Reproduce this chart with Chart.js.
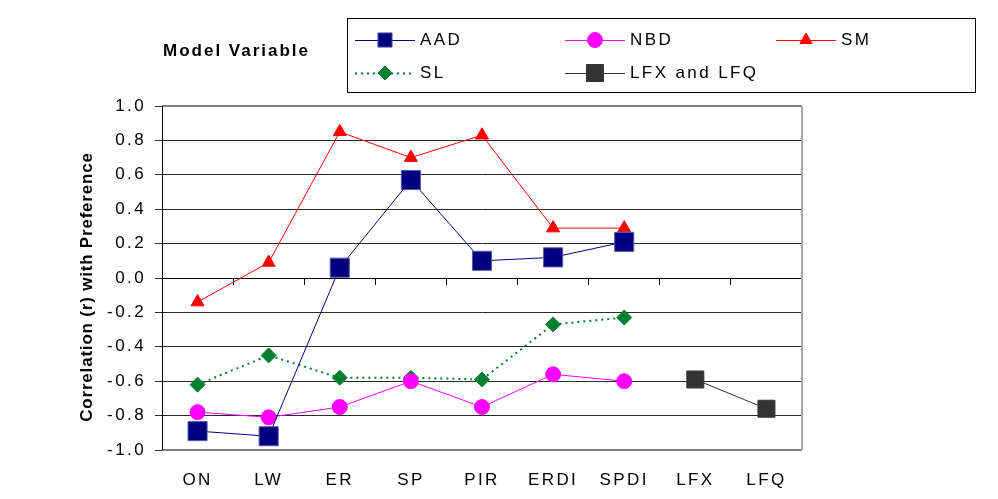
<!DOCTYPE html>
<html>
<head>
<meta charset="utf-8">
<script src="https://cdn.jsdelivr.net/npm/chart.js"></script>
<style>
  html, body { margin: 0; padding: 0; background: #fff; }
  #wrap { width: 998px; height: 499px; position: relative; }
</style>
</head>
<body>
<div id="wrap"><canvas id="corrChart"></canvas></div>
<script>
const categories = ['ON', 'LW', 'ER', 'SP', 'PIR', 'ERDI', 'SPDI', 'LFX', 'LFQ'];
const aadValues = [-0.89, -0.92, 0.06, 0.57, 0.10, 0.12, 0.21, null, null];
const nbdValues = [-0.78, -0.81, -0.75, -0.60, -0.75, -0.56, -0.60, null, null];
const smValues = [-0.14, 0.09, 0.85, 0.70, 0.83, 0.29, 0.29, null, null];
const slValues = [-0.62, -0.45, -0.58, -0.58, -0.59, -0.27, -0.23, null, null];
const lfValues = [null, null, null, null, null, null, null, -0.59, -0.76];
const yTicks = { min: -1.0, max: 1.0, step: 0.2 };

const FONT = '"Liberation Sans", Arial, sans-serif';

// legend entries: dataset index, column, row, marker radius
const legendItems = [
    { ds: 0, col: 0, row: 0, r: 10 },
    { ds: 1, col: 1, row: 0, r: 7.5 },
    { ds: 2, col: 2, row: 0, r: 7 },
    { ds: 3, col: 0, row: 1, r: 7 },
    { ds: 4, col: 1, row: 1, r: 12 }
];

const spacingPlugin = {
    id: 'spacing',
    beforeDraw(chart) {
        chart.ctx.letterSpacing = '2.4px';
    }
};

const framePlugin = {
    id: 'frame',
    beforeDatasetsDraw(chart) {
        const a = chart.chartArea;
        const ctx = chart.ctx;
        ctx.save();
        ctx.strokeStyle = '#808080';
        ctx.lineWidth = 2;
        ctx.beginPath();
        ctx.moveTo(a.left, a.top);
        ctx.lineTo(a.right, a.top);
        ctx.moveTo(a.right, a.bottom);
        ctx.lineTo(a.left, a.bottom);
        ctx.stroke();
        ctx.strokeStyle = '#a8a8a8';
        ctx.beginPath();
        ctx.moveTo(a.right, a.top);
        ctx.lineTo(a.right, a.bottom);
        ctx.stroke();
        ctx.strokeStyle = '#000';
        ctx.lineWidth = 1;
        ctx.beginPath();
        ctx.moveTo(Math.round(a.left) + 0.5, a.top);
        ctx.lineTo(Math.round(a.left) + 0.5, a.bottom);
        ctx.stroke();
        ctx.restore();
    }
};

const boxLegendPlugin = {
    id: 'boxLegend',
    afterDraw(chart) {
        const ctx = chart.ctx;
        ctx.save();

        // y axis title
        ctx.save();
        ctx.translate(87, 287);
        ctx.rotate(-Math.PI / 2);
        ctx.letterSpacing = '0.8px';
        ctx.font = 'bold 17px ' + FONT;
        ctx.fillStyle = '#000';
        ctx.textAlign = 'center';
        ctx.textBaseline = 'middle';
        ctx.fillText('Correlation (r) with Preference', 0, 0);
        ctx.restore();

        // heading
        ctx.letterSpacing = '2px';
        ctx.font = 'bold 17px ' + FONT;
        ctx.fillStyle = '#000';
        ctx.textAlign = 'left';
        ctx.textBaseline = 'middle';
        ctx.fillText('Model Variable', 163, 51);

        // legend box
        ctx.strokeStyle = '#000';
        ctx.lineWidth = 1;
        ctx.strokeRect(347.5, 18.5, 628, 74);

        const colX = [355, 565, 776];
        const rowY = [40, 73];
        ctx.letterSpacing = '2.4px';
        ctx.font = '17px ' + FONT;
        legendItems.forEach(item => {
            const ds = chart.data.datasets[item.ds];
            const x0 = colX[item.col];
            const y = rowY[item.row];
            ctx.save();
            ctx.strokeStyle = ds.borderColor;
            ctx.lineWidth = ds.borderWidth;
            ctx.setLineDash(ds.borderDash || []);
            ctx.beginPath();
            ctx.moveTo(x0, y + 0.5);
            ctx.lineTo(x0 + 60, y + 0.5);
            ctx.stroke();
            ctx.setLineDash([]);
            ctx.fillStyle = ds.pointBackgroundColor;
            ctx.strokeStyle = ds.pointBorderColor;
            ctx.lineWidth = 1;
            Chart.helpers.drawPoint(ctx, {
                pointStyle: ds.pointStyle, radius: item.r, rotation: 0, borderWidth: 1
            }, x0 + 30, y);
            ctx.restore();
            ctx.fillStyle = '#000';
            ctx.fillText(ds.label, x0 + 65, y);
        });
        ctx.restore();
    }
};

const ctx = document.getElementById('corrChart').getContext('2d');

const corrChart = new Chart(ctx, {
    type: 'line',
    data: {
        labels: categories,
        datasets: [{
            label: 'AAD',
            data: aadValues,
            borderColor: '#000080',
            borderWidth: 1,
            pointStyle: 'rect',
            pointRadius: 13.5,
            pointBackgroundColor: '#000080',
            pointBorderColor: '#5a5aa8',
            pointBorderWidth: 1
        }, {
            label: 'NBD',
            data: nbdValues,
            borderColor: '#ff00ff',
            borderWidth: 1,
            pointStyle: 'circle',
            pointRadius: 7.5,
            pointBackgroundColor: '#ff00ff',
            pointBorderColor: '#ff00ff',
            pointBorderWidth: 1
        }, {
            label: 'SM',
            data: smValues,
            borderColor: '#ff0000',
            borderWidth: 1,
            pointStyle: 'triangle',
            pointRadius: 7.5,
            pointBackgroundColor: '#ff0000',
            pointBorderColor: '#ff0000',
            pointBorderWidth: 1
        }, {
            label: 'SL',
            data: slValues,
            borderColor: '#008030',
            borderWidth: 2,
            borderDash: [2, 4],
            pointStyle: 'rectRot',
            pointRadius: 7.5,
            pointBackgroundColor: '#008030',
            pointBorderColor: '#008030',
            pointBorderWidth: 1
        }, {
            label: 'LFX and LFQ',
            data: lfValues,
            borderColor: '#333333',
            borderWidth: 1,
            pointStyle: 'rect',
            pointRadius: 12,
            pointBackgroundColor: '#333333',
            pointBorderColor: '#333333',
            pointBorderWidth: 1
        }]
    },
    options: {
        responsive: true,
        maintainAspectRatio: false,
        animation: false,
        devicePixelRatio: 1,
        spanGaps: false,
        layout: { padding: { top: 106, right: 196, bottom: 0, left: 0 } },
        scales: {
            x: {
                offset: true,
                grid: { display: false },
                border: { display: false },
                ticks: {
                    color: '#000',
                    padding: 12,
                    maxRotation: 0,
                    font: { family: FONT, size: 17 }
                },
                afterFit(scale) { scale.height = 49; }
            },
            x2: {
                axis: 'x',
                type: 'category',
                position: { y: 0 },
                offset: true,
                grid: {
                    offset: true,
                    drawOnChartArea: false,
                    drawTicks: true,
                    tickLength: 6,
                    color: '#000'
                },
                border: { display: true, color: '#000', width: 1 },
                ticks: { display: false }
            },
            y: {
                min: yTicks.min,
                max: yTicks.max,
                grid: { color: '#2a2a2a', tickLength: 7 },
                border: { display: true, color: '#000' },
                ticks: {
                    stepSize: yTicks.step,
                    color: '#000',
                    padding: 9,
                    font: { family: FONT, size: 17 },
                    callback: v => v.toFixed(1)
                },
                afterFit(scale) { scale.width = 162; }
            }
        },
        plugins: {
            legend: { display: false },
            tooltip: { enabled: false }
        }
    },
    plugins: [spacingPlugin, framePlugin, boxLegendPlugin]
});
</script>
</body>
</html>
